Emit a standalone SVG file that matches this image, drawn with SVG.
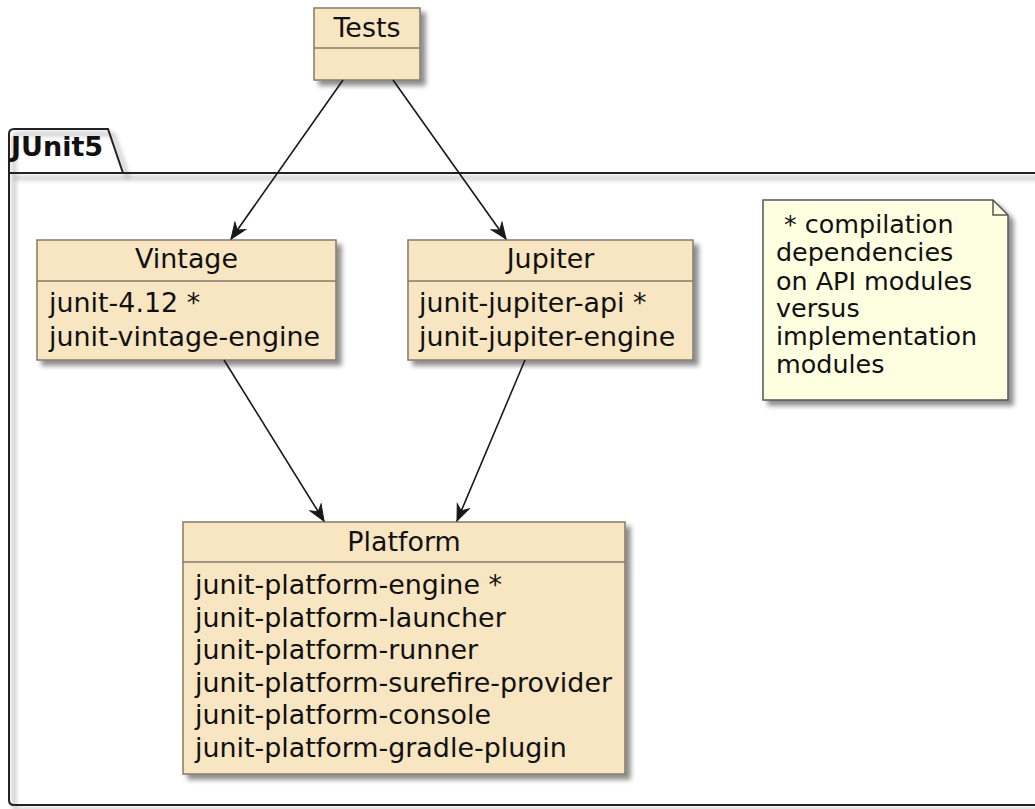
<svg xmlns="http://www.w3.org/2000/svg" width="1035" height="809" viewBox="0 0 1035 809">
<defs>
<filter id="sh" x="-10%" y="-10%" width="130%" height="130%">
<feGaussianBlur in="SourceAlpha" stdDeviation="2.5"/>
<feOffset dx="5" dy="5" result="b"/>
<feComponentTransfer><feFuncA type="linear" slope="0.45"/></feComponentTransfer>
<feMerge><feMergeNode/><feMergeNode in="SourceGraphic"/></feMerge>
</filter>
<marker id="ah" viewBox="-17 -8 19 16" refX="0" refY="0" markerWidth="19" markerHeight="16" markerUnits="userSpaceOnUse" orient="auto">
<path d="M0,0 L-16,-6.5 L-11,0 L-16,6.5 Z" fill="#181818" stroke="#181818" stroke-width="1"/>
</marker>
</defs>
<style>
.box{fill:#F8E5C1;stroke:#857A68;stroke-width:1.5}
.div{stroke:#857A68;stroke-width:1.5}
.t{font-family:"DejaVu Sans",sans-serif;font-size:26.9px;fill:#111}
.c{text-anchor:middle}
.n{font-family:"DejaVu Sans",sans-serif;font-size:25.4px;fill:#111}
.edge{stroke:#181818;stroke-width:1.6;fill:none;marker-end:url(#ah)}
</style>
<rect width="1035" height="809" fill="#fff"/>
<g id="pkg-JUnit5">
<path d="M9,173 L9,134 Q9,129 14,129 L108,129 L123,173" fill="none" stroke="#222" stroke-width="2" filter="url(#sh)"/>
<path d="M1040,173 L9,173 L9,800 Q9,805 14,805 L1040,805" fill="none" stroke="#222" stroke-width="2" filter="url(#sh)"/>
<text x="11" y="156" font-family="DejaVu Sans,sans-serif" font-size="27" font-weight="bold" fill="#111">JUnit5</text>
</g>
<g id="node-Tests">
<rect class="box" x="314" y="8" width="106" height="72" filter="url(#sh)"/>
<line class="div" x1="314" y1="48" x2="420" y2="48"/>
<text class="t c" x="367" y="37">Tests</text>
</g>
<g id="node-Vintage">
<rect class="box" x="37" y="240" width="299" height="120" filter="url(#sh)"/>
<line class="div" x1="37" y1="281" x2="336" y2="281"/>
<text class="t c" x="186.5" y="268">Vintage</text>
<text class="t" x="49" y="312">junit-4.12 *</text>
<text class="t" x="49" y="346">junit-vintage-engine</text>
</g>
<g id="node-Jupiter">
<rect class="box" x="408" y="240" width="285" height="120" filter="url(#sh)"/>
<line class="div" x1="408" y1="281" x2="693" y2="281"/>
<text class="t c" x="550.5" y="268">Jupiter</text>
<text class="t" x="419" y="312">junit-jupiter-api *</text>
<text class="t" x="419" y="346">junit-jupiter-engine</text>
</g>
<g id="node-Platform">
<rect class="box" x="183" y="522" width="442" height="252" filter="url(#sh)"/>
<line class="div" x1="183" y1="562" x2="625" y2="562"/>
<text class="t c" x="404" y="551">Platform</text>
<text class="t" x="195" y="594">junit-platform-engine *</text>
<text class="t" x="195" y="627">junit-platform-launcher</text>
<text class="t" x="195" y="659">junit-platform-runner</text>
<text class="t" x="195" y="692">junit-platform-surefire-provider</text>
<text class="t" x="195" y="724">junit-platform-console</text>
<text class="t" x="195" y="757">junit-platform-gradle-plugin</text>
</g>
<g id="note">
<path d="M763,200 L993,200 L1008,215 L1008,400 L763,400 Z" fill="#FEFEE0" stroke="#555" stroke-width="1.5" filter="url(#sh)"/>
<path d="M993,200 L993,215 L1008,215" fill="none" stroke="#555" stroke-width="1.5"/>
<text class="n" x="776" y="233">&#160;* compilation</text>
<text class="n" x="776" y="261">dependencies</text>
<text class="n" x="776" y="290">on API modules</text>
<text class="n" x="776" y="317">versus</text>
<text class="n" x="776" y="345">implementation</text>
<text class="n" x="776" y="373">modules</text>
</g>
<g id="connectors">
<line class="edge" x1="343" y1="80" x2="231" y2="239"/>
<line class="edge" x1="393" y1="80" x2="506" y2="239"/>
<line class="edge" x1="224" y1="360" x2="324" y2="521"/>
<line class="edge" x1="525" y1="360" x2="457" y2="521"/>
</g>
</svg>
